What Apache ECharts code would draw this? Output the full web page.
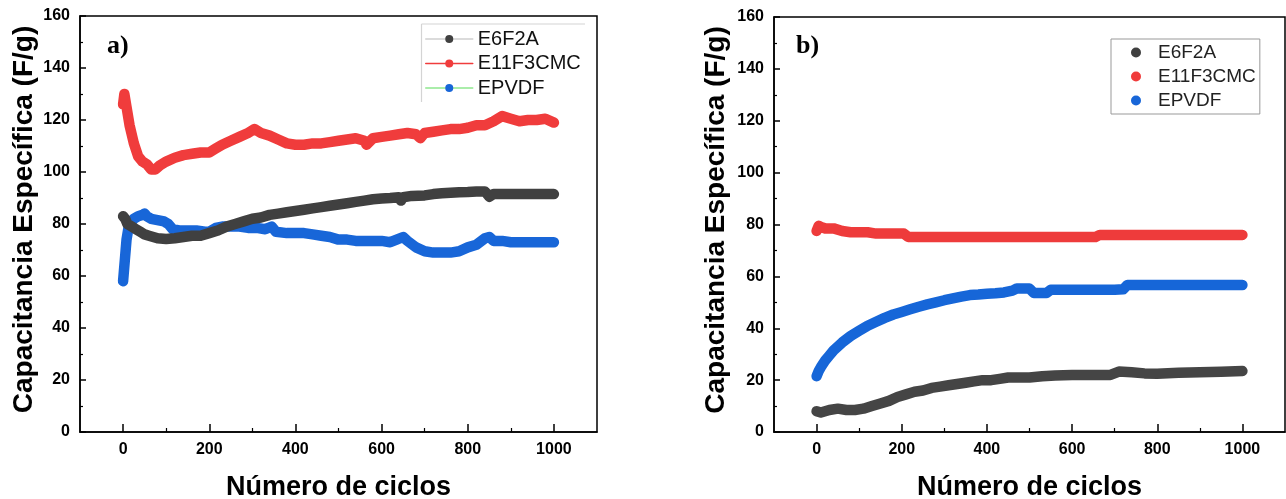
<!DOCTYPE html>
<html><head><meta charset="utf-8">
<script src="https://cdn.jsdelivr.net/npm/echarts@6/dist/echarts.min.js"></script>
<style>html,body{margin:0;padding:0;background:#fff}#c{width:1286px;height:499px}</style>
</head><body><div id="c"></div>
<script>
// ---- data ----
const seriesNames = ['E6F2A', 'E11F3CMC', 'EPVDF'];
const xMajorTicks = [0, 200, 400, 600, 800, 1000];
const xMinorTicks = [100, 300, 500, 700, 900];
const yTitle = 'Capacitancia Específica (F/g)';
const xTitle = 'Número de ciclos';

// panel a)
const aGreyC = [0,5,10,20,30,40,50,60,70,80,100,120,140,160,180,200,220,240,260,280,300,320,340,360,380,400,420,440,460,480,500,520,540,560,580,600,620,640,645,650,670,700,720,740,760,780,800,820,840,850,860,880,900,920,940,960,980,1000];
const aGreyV = [83,82,80,79,78,77,76,75.5,75,74.5,74.2,74.5,75,75.5,75.5,76.5,77.5,79,80,81,82,82.5,83.5,84,84.5,85,85.5,86,86.5,87,87.5,88,88.5,89,89.5,89.8,90,90.3,89,90.3,90.8,91,91.5,91.8,92,92.2,92.3,92.5,92.5,90.5,91.5,91.5,91.5,91.5,91.5,91.5,91.5,91.5];
const aRedC = [0,3,8,15,25,35,45,55,65,75,85,100,120,140,160,180,200,215,230,250,270,290,305,320,340,360,380,400,420,440,460,480,500,520,540,560,565,580,600,620,640,660,680,690,700,720,740,760,780,800,820,840,860,880,900,920,940,960,980,1000];
const aRedV = [126,130,125,118,111,106,104,103,101,101,102.5,104,105.5,106.5,107,107.5,107.5,109,110.5,112,113.5,115,116.5,115,114,112.5,111,110.5,110.5,111,111,111.5,112,112.5,113,112,110.5,113,113.5,114,114.5,115,114.5,113,115,115.5,116,116.5,116.5,117,118,118,119.5,121.5,120.5,119.5,120,120,120.5,119];
const aBlueC = [0,2,4,6,8,12,18,25,35,45,50,55,65,80,95,105,115,130,150,170,190,200,215,230,250,270,290,310,330,345,355,380,400,420,440,460,480,500,520,540,560,580,600,620,635,650,660,680,700,720,740,760,780,800,820,840,850,860,880,900,920,940,960,980,1000];
const aBlueV = [58,62,66,70,74,78,80.5,82,83,83.5,84,83,82,81.5,81,80,78,77.5,77.5,77.5,77,77,78.5,79,79,79,78.5,78.5,78,79,77,76.5,76.5,76.5,76,75.5,75,74,74,73.5,73.5,73.5,73.5,73,74,75,73.5,71,69.5,69,69,69,69.5,71,72,74.5,75,73.5,73.5,73,73,73,73,73,73];

// panel b)
const bGreyC = [0,10,20,30,50,70,90,110,130,150,170,190,210,230,250,270,290,310,330,350,370,390,410,430,450,470,500,530,560,600,650,690,710,740,770,800,850,900,950,1000];
const bGreyV = [8,7.5,8,8.5,9,8.5,8.5,9,10,11,12,13.5,14.5,15.5,16,17,17.5,18,18.5,19,19.5,20,20,20.5,21,21,21,21.5,21.8,22,22,22,23.3,23,22.6,22.5,22.8,23,23.2,23.5];
const bRedC = [0,5,10,20,40,60,80,100,120,140,160,180,205,215,300,400,500,600,655,665,700,800,900,1000];
const bRedV = [77.5,79.5,79,78.5,78.5,77.5,77,77,77,76.5,76.5,76.5,76.5,75.2,75.2,75.2,75.2,75.2,75.2,76,76,76,76,76];
const bBlueC = [0,5,10,20,30,40,60,80,100,120,140,160,180,200,220,240,260,280,300,320,340,360,380,400,420,440,460,470,500,510,540,550,600,650,700,720,730,760,800,900,1000];
const bBlueV = [21.5,23.5,25,27.5,29.5,31.5,34.5,37,39,41,42.5,44,45.3,46.3,47.3,48.3,49.2,50,50.8,51.5,52.2,52.8,53,53.3,53.5,53.8,54.5,55.3,55.3,53.6,53.6,54.8,54.8,54.8,54.8,55,56.7,56.7,56.7,56.7,56.7];

// ---- chart ----
const FONT = 'Liberation Sans, Arial, sans-serif';
const COL = { grey: '#404040', red: '#f03c3c', blue: '#1866d8' };
const pair = (c, v) => c.map((x, i) => [x, v[i]]);

function yAx(grid, gap) {
  return {
    type: 'value', gridIndex: grid, min: 0, max: 160, interval: 20,
    axisLine: { show: true, onZero: false, lineStyle: { color: '#000', width: 1.5 } },
    axisTick: { show: true, inside: true, length: 6, lineStyle: { color: '#000', width: 1.5 } },
    minorTick: { show: true, splitNumber: 2, length: 3, lineStyle: { color: '#000', width: 1.2 } },
    splitLine: { show: false },
    axisLabel: { color: '#000', fontWeight: 'bold', fontSize: 16, fontFamily: FONT, margin: 10 },
    name: yTitle, nameLocation: 'middle', nameGap: gap,
    nameTextStyle: { color: '#000', fontWeight: 'bold', fontSize: 28, fontFamily: FONT, padding: [0, 0, 0, 9] }
  };
}
function xAx(grid) {
  return {
    type: 'value', gridIndex: grid, min: -100, max: 1100, position: 'bottom',
    axisLine: { show: true, onZero: false, lineStyle: { color: '#000', width: 1.5 } },
    axisTick: { show: true, inside: true, length: 8, customValues: xMajorTicks, lineStyle: { color: '#000', width: 1.5 } },
    splitLine: { show: false },
    axisLabel: { color: '#000', fontWeight: 'bold', fontSize: 16, fontFamily: FONT, margin: 10,
                 customValues: xMajorTicks, formatter: v => String(v) },
    name: xTitle, nameLocation: 'middle', nameGap: 42,
    nameTextStyle: { color: '#000', fontWeight: 'bold', fontSize: 27, fontFamily: FONT }
  };
}
function xAxMinor(grid) {
  return {
    type: 'value', gridIndex: grid, min: -100, max: 1100, position: 'bottom',
    axisLine: { show: false, onZero: false },
    axisTick: { show: true, inside: true, length: 4, customValues: xMinorTicks, lineStyle: { color: '#000', width: 1.2 } },
    axisLabel: { show: false, customValues: [] },
    splitLine: { show: false }
  };
}
function ser(name, xi, yi, data, color, z) {
  return {
    name, type: 'line', xAxisIndex: xi, yAxisIndex: yi, data, z,
    showSymbol: false, symbol: 'circle', symbolSize: 9,
    itemStyle: { color },
    lineStyle: { color, width: 10.5, cap: 'round', join: 'round' },
    emphasis: { disabled: true }
  };
}

const chart = echarts.init(document.getElementById('c'));
chart.setOption({
  animation: false,
  backgroundColor: '#fff',
  grid: [
    { left: 80, top: 16, width: 517, height: 416, show: true, borderColor: '#000', borderWidth: 1.5, backgroundColor: 'transparent', outerBoundsMode: 'none', containLabel: false },
    { left: 774, top: 17, width: 511, height: 415, show: true, borderColor: '#000', borderWidth: 1.5, backgroundColor: 'transparent', outerBoundsMode: 'none', containLabel: false }
  ],
  xAxis: [xAx(0), xAx(1), xAxMinor(0), xAxMinor(1)],
  yAxis: [yAx(0, 42), yAx(1, 44)],
  legend: [
    {
      left: 425, top: 29, orient: 'vertical', padding: 0, itemGap: 4.5,
      itemWidth: 47, itemHeight: 10, selectedMode: false,
      textStyle: { color: '#111', fontSize: 20, fontFamily: FONT, lineHeight: 20 },
      data: [
        { name: 'E6F2A', lineStyle: { color: '#cfcfcf', width: 1.5 } },
        { name: 'E11F3CMC', lineStyle: { color: '#f03c3c', width: 1.5 } },
        { name: 'EPVDF', lineStyle: { color: '#8ee88e', width: 1.5 } }
      ]
    },
    {
      left: 1111, top: 39, orient: 'vertical', padding: [4, 4, 4, 20], itemGap: 5,
      itemWidth: 10, itemHeight: 10, icon: 'circle', selectedMode: false,
      borderColor: '#999', borderWidth: 1,
      textStyle: { color: '#222', fontSize: 19, fontFamily: FONT, lineHeight: 19, padding: [0, 0, 0, 12] },
      data: seriesNames
    }
  ],
  graphic: [
    { type: 'line', shape: { x1: 421.5, y1: 24, x2: 585, y2: 24 }, style: { stroke: '#d4d4d4', lineWidth: 1.2 } },
    { type: 'line', shape: { x1: 421.5, y1: 24, x2: 421.5, y2: 102 }, style: { stroke: '#d4d4d4', lineWidth: 1.2 } },
    { type: 'text', left: 107, top: 33, style: { text: 'a)', font: 'bold 26px "Liberation Serif", "Times New Roman", serif', fill: '#000' } },
    { type: 'text', left: 796, top: 33, style: { text: 'b)', font: 'bold 26px "Liberation Serif", "Times New Roman", serif', fill: '#000' } }
  ],
  series: [
    ser('EPVDF', 0, 0, pair(aBlueC, aBlueV), COL.blue, 2),
    ser('E11F3CMC', 0, 0, pair(aRedC, aRedV), COL.red, 2),
    ser('E6F2A', 0, 0, pair(aGreyC, aGreyV), COL.grey, 3),
    ser('E6F2A', 1, 1, pair(bGreyC, bGreyV), '#454545', 2),
    ser('E11F3CMC', 1, 1, pair(bRedC, bRedV), '#ee3b3b', 2),
    ser('EPVDF', 1, 1, pair(bBlueC, bBlueV), '#1666d8', 2)
  ]
});
</script></body></html>
